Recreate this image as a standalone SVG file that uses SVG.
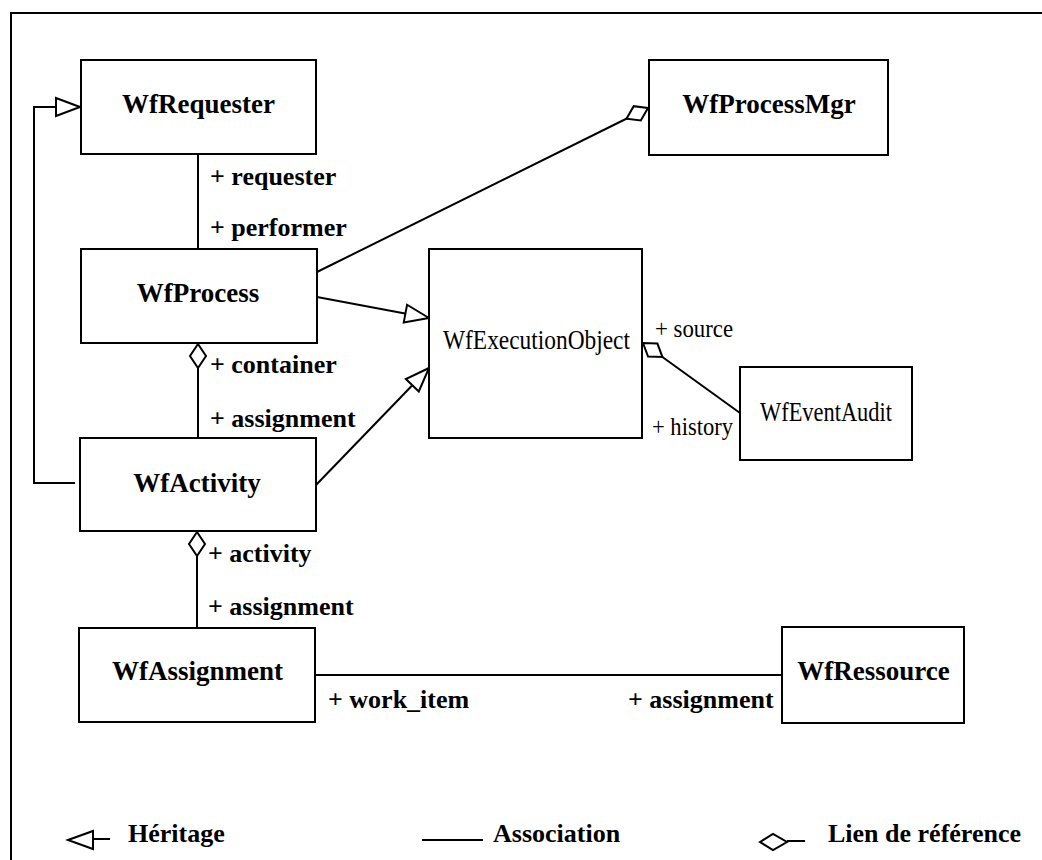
<svg xmlns="http://www.w3.org/2000/svg" width="1042" height="860" viewBox="0 0 1042 860">
<style>
.box{fill:#fff;stroke:#000;stroke-width:2}
.ln{fill:none;stroke:#000;stroke-width:2}
.nm{font-family:"Liberation Serif","Times New Roman",serif;font-weight:bold;font-size:27px;text-anchor:middle;fill:#000}
.nmr{font-family:"Liberation Serif","Times New Roman",serif;font-size:27px;fill:#000}
.lb{font-family:"Liberation Serif","Times New Roman",serif;font-weight:bold;font-size:26px;fill:#000}
.lbr{font-family:"Liberation Serif","Times New Roman",serif;font-size:26px;fill:#000}
</style>
<defs>
<marker id="tri" markerUnits="userSpaceOnUse" orient="auto" refX="0" refY="0" markerWidth="30" markerHeight="24" viewBox="-26 -12 30 24" overflow="visible">
<path d="M0,0 L-24,-9 L-24,9 Z" fill="#fff" stroke="#000" stroke-width="2"/>
</marker>
<marker id="dia" markerUnits="userSpaceOnUse" orient="auto" refX="0" refY="0" markerWidth="30" markerHeight="24" viewBox="-26 -12 30 24" overflow="visible">
<path d="M0,0 L-12,-8 L-24,0 L-12,8 Z" fill="#fff" stroke="#000" stroke-width="2"/>
</marker>
</defs>
<rect width="1042" height="860" fill="#fff"/>
<path class="ln" d="M11,860 V13 H1042"/>
<g id="connectors">
<path class="ln" d="M75,483 H34 V107 H80" marker-end="url(#tri)"/>
<path class="ln" d="M198,154 V249"/>
<path class="ln" d="M317,272 L648,108" marker-end="url(#dia)"/>
<path class="ln" d="M317,297 L429,318" marker-end="url(#tri)"/>
<path class="ln" d="M316,485 L429,368" marker-end="url(#tri)"/>
<path class="ln" d="M198,438 V344" marker-end="url(#dia)"/>
<path class="ln" d="M197,628 V532" marker-end="url(#dia)"/>
<path class="ln" d="M315,675 H782"/>
<path class="ln" d="M740,413 L643,343" marker-end="url(#dia)"/>
<text class="lb" x="210" y="185">+ requester</text>
<text class="lb" x="210" y="236">+ performer</text>
<text class="lb" x="210" y="373">+ container</text>
<text class="lb" x="210" y="427">+ assignment</text>
<text class="lb" x="208" y="562">+ activity</text>
<text class="lb" x="208" y="615">+ assignment</text>
<text class="lb" x="328" y="708">+ work_item</text>
<text class="lb" x="628" y="708">+ assignment</text>
<text class="lbr" x="655" y="337" textLength="78" lengthAdjust="spacingAndGlyphs">+ source</text>
<text class="lbr" x="652" y="435" textLength="81" lengthAdjust="spacingAndGlyphs">+ history</text>
</g>
<g id="WfRequester"><rect class="box" x="81" y="60" width="235" height="94"/><text class="nm" x="198.5" y="113">WfRequester</text></g>
<g id="WfProcessMgr"><rect class="box" x="649" y="60" width="239" height="95"/><text class="nm" x="769" y="113">WfProcessMgr</text></g>
<g id="WfProcess"><rect class="box" x="81" y="249" width="236" height="94"/><text class="nm" x="198" y="302">WfProcess</text></g>
<g id="WfExecutionObject"><rect class="box" x="429" y="249" width="213" height="189"/><text class="nmr" x="443" y="349" textLength="187" lengthAdjust="spacingAndGlyphs">WfExecutionObject</text></g>
<g id="WfEventAudit"><rect class="box" x="740" y="367" width="172" height="93"/><text class="nmr" x="760" y="421" textLength="132" lengthAdjust="spacingAndGlyphs">WfEventAudit</text></g>
<g id="WfActivity"><rect class="box" x="80" y="438" width="236" height="93"/><text class="nm" x="197" y="492">WfActivity</text></g>
<g id="WfAssignment"><rect class="box" x="79" y="628" width="236" height="94"/><text class="nm" x="197.5" y="680">WfAssignment</text></g>
<g id="WfRessource"><rect class="box" x="782" y="627" width="182" height="96"/><text class="nm" x="873.5" y="680">WfRessource</text></g>
<g id="legend">
<path class="ln" d="M68,840 L93,831 L93,849 Z M93,839 H110"/>
<text class="lb" x="128" y="842">Héritage</text>
<path class="ln" d="M422,840 H483"/>
<text class="lb" x="493" y="842">Association</text>
<path class="ln" d="M760,842 L773,834 L787,842 L773,850 Z M787,841 H805"/>
<text class="lb" x="828" y="842">Lien de référence</text>
</g>
</svg>
